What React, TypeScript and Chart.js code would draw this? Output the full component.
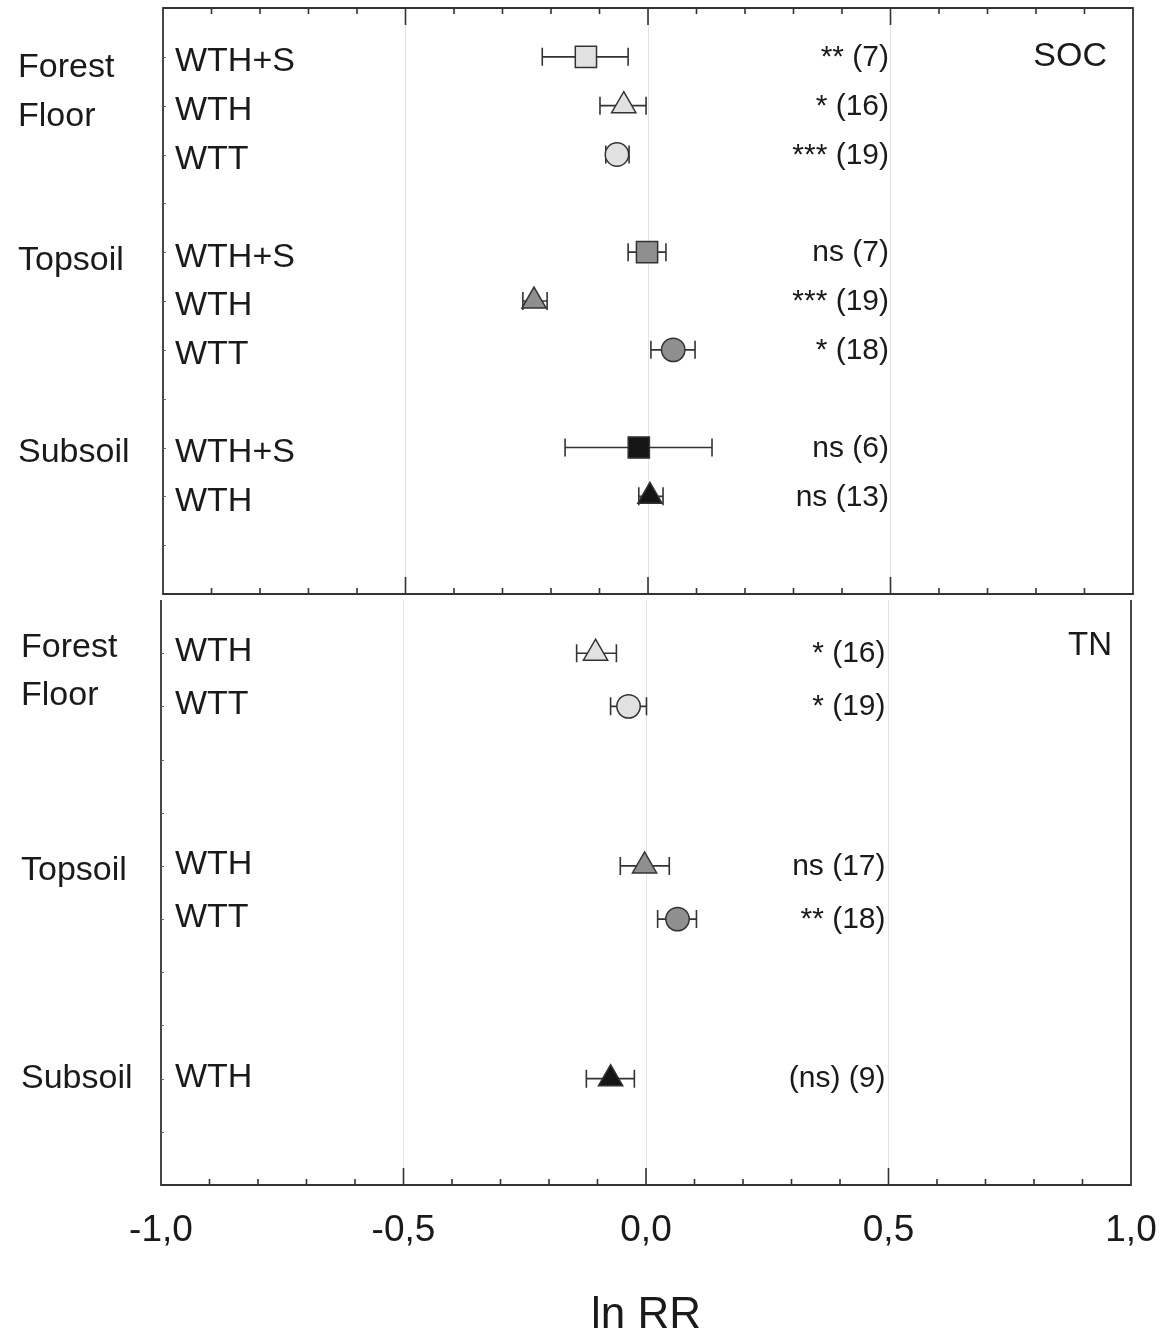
import React, { useEffect, useRef } from 'react';
import { Chart, registerables } from 'chart.js';

Chart.register(...registerables);

const FONT = '"Liberation Sans", Arial, Helvetica, sans-serif';
const TEXT = '#1a1a1a';
const FRAME = '#333333';

// ---------- SOC panel (top) ----------
const socRows = [1, 2, 3, 5, 6, 7, 9, 10];
const socTreatments = ['WTH+S', 'WTH', 'WTT', 'WTH+S', 'WTH', 'WTT', 'WTH+S', 'WTH'];
const socLayers = ['Forest floor', 'Forest floor', 'Forest floor', 'Topsoil', 'Topsoil', 'Topsoil', 'Subsoil', 'Subsoil'];
const socMean = [-0.128, -0.050, -0.064, -0.002, -0.235, 0.052, -0.019, 0.004];
const socLow = [-0.218, -0.099, -0.087, -0.041, -0.258, 0.006, -0.171, -0.019];
const socHigh = [-0.041, -0.004, -0.039, 0.037, -0.208, 0.097, 0.132, 0.031];
const socSig = ['** (7)', '* (16)', '*** (19)', 'ns (7)', '*** (19)', '* (18)', 'ns (6)', 'ns (13)'];
const socGroupLabels = ['Forest', 'Floor', 'Topsoil', 'Subsoil'];
const socGroupRows = [1.22, 2.22, 5.17, 9.1];

// ---------- TN panel (bottom) ----------
const tnRows = [1, 2, 5, 6, 9];
const tnTreatments = ['WTH', 'WTT', 'WTH', 'WTT', 'WTH'];
const tnLayers = ['Forest floor', 'Forest floor', 'Topsoil', 'Topsoil', 'Subsoil'];
const tnMean = [-0.104, -0.036, -0.003, 0.065, -0.073];
const tnLow = [-0.143, -0.073, -0.053, 0.024, -0.123];
const tnHigh = [-0.061, 0.001, 0.048, 0.104, -0.024];
const tnSig = ['* (16)', '* (19)', 'ns (17)', '** (18)', '(ns) (9)'];
const tnGroupLabels = ['Forest', 'Floor', 'Topsoil', 'Subsoil'];
const tnGroupRows = [0.9, 1.8, 5.09, 9.0];

// ---------- axis ----------
const xMin = -1;
const xMax = 1;
const xStep = 0.1;
const xTitle = 'ln RR';

const layerColors: Record<string, string> = {
  'Forest floor': '#e1e1e1',
  Topsoil: '#8f8f8f',
  Subsoil: '#151515',
};
const treatmentStyles: Record<string, string> = { 'WTH+S': 'rect', WTH: 'triangle', WTT: 'circle' };
const treatmentRadius: Record<string, number> = { 'WTH+S': 15, WTH: 14, WTT: 11.7 };

interface PanelData {
  title: string;
  rows: number[];
  treatments: string[];
  layers: string[];
  mean: number[];
  low: number[];
  high: number[];
  sig: string[];
  groupLabels: string[];
  groupRows: number[];
  yMax: number;
}

interface PanelLayout {
  canvasTop: number;
  canvasHeight: number;
  padding: { left: number; right: number; top: number; bottom: number };
  axisHeight: number;
  showAxisLabels: boolean;
  topTicks: boolean;
  fullFrame: boolean;
  labelX: number;
  labelDy: number;
  sigDx: number;
  sigDy: number;
  groupX: number;
  titleDx: number;
  titleY: number;
  titleSize: number;
}

const isHalf = (v: number) => Math.abs(v * 2 - Math.round(v * 2)) < 1e-6;
const fmt = (v: number) => (Math.round(v * 10) / 10).toFixed(1).replace('.', ',');

function makePlugin(p: PanelData, L: PanelLayout) {
  return {
    id: 'panelDecor',
    beforeDatasetsDraw(chart: any) {
      const { ctx, scales } = chart;
      const x = scales.x;
      const y = scales.y;
      ctx.save();
      ctx.strokeStyle = FRAME;
      ctx.lineWidth = 1.6;
      p.rows.forEach((r, i) => {
        const py = y.getPixelForValue(r);
        const x1 = x.getPixelForValue(p.low[i]);
        const x2 = x.getPixelForValue(p.high[i]);
        ctx.beginPath();
        ctx.moveTo(x1, py);
        ctx.lineTo(x2, py);
        ctx.moveTo(x1, py - 9);
        ctx.lineTo(x1, py + 9);
        ctx.moveTo(x2, py - 9);
        ctx.lineTo(x2, py + 9);
        ctx.stroke();
      });
      ctx.restore();
    },
    afterDatasetsDraw(chart: any) {
      const { ctx, chartArea: a, scales } = chart;
      const x = scales.x;
      const y = scales.y;
      ctx.save();
      // frame
      ctx.strokeStyle = FRAME;
      ctx.lineWidth = 1.8;
      ctx.beginPath();
      if (L.fullFrame) {
        ctx.rect(a.left, a.top, a.right - a.left, a.bottom - a.top);
      } else {
        ctx.moveTo(a.left, a.top);
        ctx.lineTo(a.left, a.bottom);
        ctx.lineTo(a.right, a.bottom);
        ctx.lineTo(a.right, a.top);
      }
      ctx.stroke();

      // x tick marks (inside)
      ctx.lineWidth = 1.6;
      ctx.beginPath();
      x.ticks.forEach((t: any) => {
        const v = t.value;
        if (Math.abs(v - xMin) < 1e-6 || Math.abs(v - xMax) < 1e-6) return;
        const px = x.getPixelForValue(v);
        const len = isHalf(v) ? 17 : 6;
        ctx.moveTo(px, a.bottom);
        ctx.lineTo(px, a.bottom - len);
        if (L.topTicks) {
          ctx.moveTo(px, a.top);
          ctx.lineTo(px, a.top + len);
        }
      });
      ctx.stroke();

      // y tick marks (inside, small)
      ctx.strokeStyle = '#666';
      ctx.lineWidth = 1;
      ctx.beginPath();
      for (let r = 1; r < p.yMax; r++) {
        const py = Math.round(y.getPixelForValue(r)) + 0.5;
        ctx.moveTo(a.left, py);
        ctx.lineTo(a.left + 3, py);
      }
      ctx.stroke();

      ctx.fillStyle = TEXT;
      ctx.textBaseline = 'middle';

      // treatment labels
      ctx.font = `34px ${FONT}`;
      ctx.textAlign = 'left';
      p.rows.forEach((r, i) => {
        ctx.fillText(p.treatments[i], L.labelX, y.getPixelForValue(r) + L.labelDy);
      });

      // significance annotations
      ctx.font = `30px ${FONT}`;
      ctx.textAlign = 'right';
      const sx = x.getPixelForValue(0.5) + L.sigDx;
      p.rows.forEach((r, i) => {
        ctx.fillText(p.sig[i], sx, y.getPixelForValue(r) + L.sigDy);
      });

      // group labels (outside, left)
      ctx.font = `34px ${FONT}`;
      ctx.textAlign = 'left';
      p.groupLabels.forEach((g, i) => {
        ctx.fillText(g, L.groupX, y.getPixelForValue(p.groupRows[i]));
      });

      // panel title
      ctx.font = `${L.titleSize}px ${FONT}`;
      ctx.textAlign = 'right';
      ctx.fillText(p.title, a.right + L.titleDx, L.titleY - L.canvasTop);
      ctx.restore();
    },
  };
}

function Panel({ data, layout }: { data: PanelData; layout: PanelLayout }) {
  const ref = useRef<HTMLCanvasElement | null>(null);
  useEffect(() => {
    if (!ref.current) return;
    const points = data.rows.map((r, i) => ({ x: data.mean[i], y: r }));
    const chart = new Chart(ref.current, {
      type: 'scatter',
      data: {
        datasets: [
          {
            data: points,
            pointStyle: data.treatments.map((t) => treatmentStyles[t]) as any,
            pointRadius: data.treatments.map((t) => treatmentRadius[t]),
            pointHoverRadius: data.treatments.map((t) => treatmentRadius[t]),
            pointBackgroundColor: data.layers.map((l) => layerColors[l]),
            pointBorderColor: FRAME,
            pointBorderWidth: 1.5,
            showLine: false,
            clip: false as any,
          },
        ],
      },
      options: {
        animation: false,
        responsive: false,
        maintainAspectRatio: false,
        devicePixelRatio: 1,
        events: [],
        layout: { padding: layout.padding, autoPadding: false },
        plugins: { legend: { display: false }, tooltip: { enabled: false } },
        scales: {
          x: {
            type: 'linear',
            min: xMin,
            max: xMax,
            afterFit: (s: any) => {
              s.height = layout.axisHeight;
              s.paddingLeft = 0;
              s.paddingRight = 0;
            },
            ticks: {
              stepSize: xStep,
              autoSkip: false,
              maxRotation: 0,
              minRotation: 0,
              display: layout.showAxisLabels,
              padding: 24,
              color: TEXT,
              font: { family: FONT, size: 37 },
              callback: (v: any) => (isHalf(Number(v)) ? fmt(Number(v)) : ''),
            },
            grid: {
              drawTicks: false,
              lineWidth: 1,
              color: (c: any) => {
                const v = c.tick ? c.tick.value : NaN;
                if (isHalf(v) && Math.abs(Math.abs(v) - 1) > 1e-6) return '#e2e2e2';
                return 'rgba(0,0,0,0)';
              },
            },
            border: { display: false },
            title: {
              display: layout.showAxisLabels,
              text: xTitle,
              color: TEXT,
              font: { family: FONT, size: 44, lineHeight: 0.92 },
              padding: 0,
            },
          },
          y: {
            type: 'linear',
            min: 0,
            max: data.yMax,
            reverse: true,
            display: false,
          },
        },
      },
      plugins: [makePlugin(data, layout) as any],
    });
    return () => chart.destroy();
  }, [data, layout]);

  return (
    <canvas
      ref={ref}
      width={1162}
      height={layout.canvasHeight}
      style={{ position: 'absolute', left: 0, top: layout.canvasTop, width: 1162, height: layout.canvasHeight }}
    />
  );
}

const socData: PanelData = {
  title: 'SOC',
  rows: socRows,
  treatments: socTreatments,
  layers: socLayers,
  mean: socMean,
  low: socLow,
  high: socHigh,
  sig: socSig,
  groupLabels: socGroupLabels,
  groupRows: socGroupRows,
  yMax: 12,
};

const tnData: PanelData = {
  title: 'TN',
  rows: tnRows,
  treatments: tnTreatments,
  layers: tnLayers,
  mean: tnMean,
  low: tnLow,
  high: tnHigh,
  sig: tnSig,
  groupLabels: tnGroupLabels,
  groupRows: tnGroupRows,
  yMax: 11,
};

const socLayout: PanelLayout = {
  canvasTop: 0,
  canvasHeight: 596,
  padding: { left: 163, right: 29, top: 8, bottom: 2 },
  axisHeight: 0,
  showAxisLabels: false,
  topTicks: true,
  fullFrame: true,
  labelX: 175,
  labelDy: 5,
  sigDx: -1.5,
  sigDy: 1,
  groupX: 18,
  titleDx: -26,
  titleY: 57,
  titleSize: 34,
};

const tnLayout: PanelLayout = {
  canvasTop: 596,
  canvasHeight: 740,
  padding: { left: 161, right: 31, top: 4, bottom: 0 },
  axisHeight: 151,
  showAxisLabels: true,
  topTicks: false,
  fullFrame: false,
  labelX: 175,
  labelDy: -1.5,
  sigDx: -3,
  sigDy: 0.5,
  groupX: 21,
  titleDx: -19,
  titleY: 646,
  titleSize: 33,
};

export default function App() {
  return (
    <div style={{ position: 'absolute', left: 0, top: 0, width: 1162, height: 1336, background: '#ffffff', overflow: 'hidden' }}>
      <Panel data={socData} layout={socLayout} />
      <Panel data={tnData} layout={tnLayout} />
    </div>
  );
}
